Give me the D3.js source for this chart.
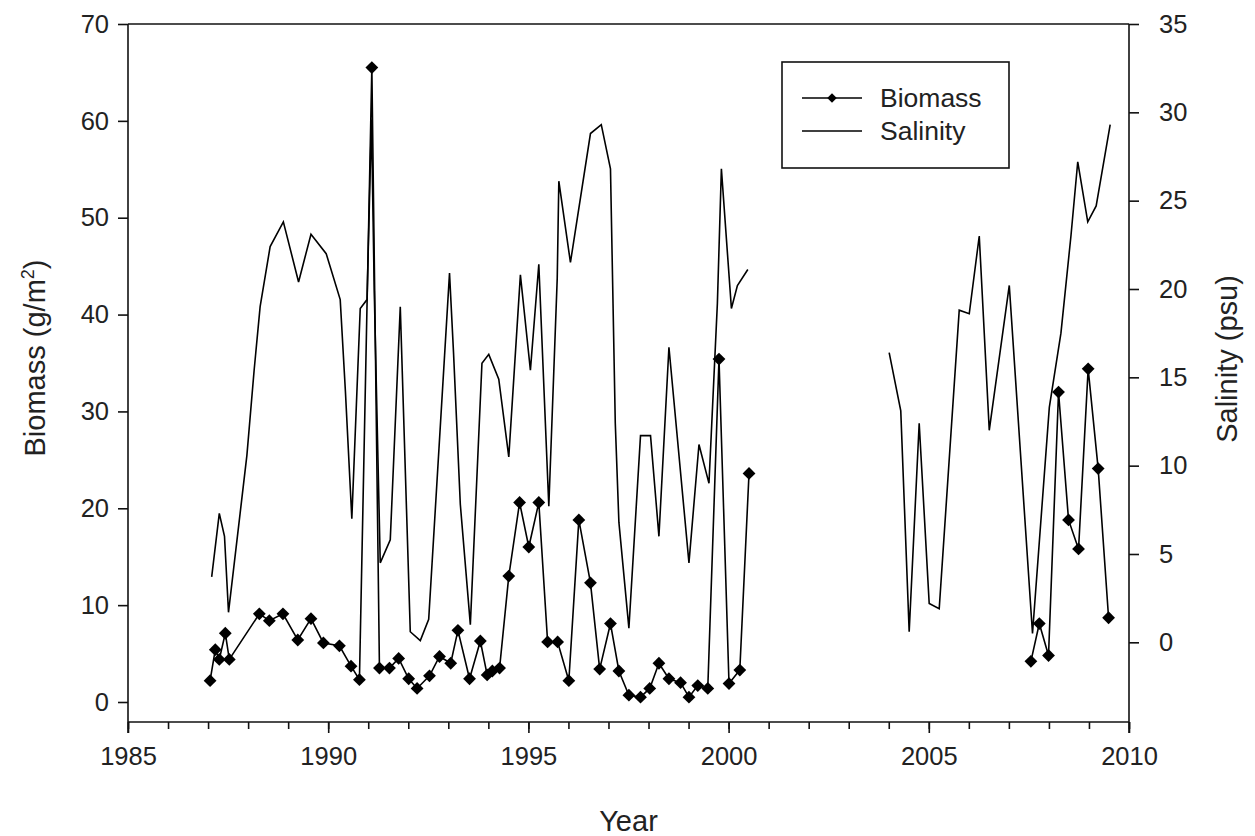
<!DOCTYPE html>
<html>
<head>
<meta charset="utf-8">
<script src="https://cdn.jsdelivr.net/npm/d3@7"></script>
<style>
  html, body { margin: 0; padding: 0; background: #fff; }
  svg { display: block; }
  text { font-family: "Liberation Sans", Arial, sans-serif; fill: #222; }
</style>
</head>
<body>
<svg id="chart" width="1255" height="836"></svg>
<script>
// ---- Data ----
const biomassEarlyYears = [1987.05,1987.18,1987.28,1987.43,1987.53,1988.28,1988.53,1988.87,1989.24,1989.57,1989.88,1990.28,1990.57,1990.78,1991.09,1991.28,1991.53,1991.76,1992.01,1992.22,1992.53,1992.78,1993.06,1993.24,1993.53,1993.80,1993.97,1994.10,1994.28,1994.51,1994.78,1995.01,1995.26,1995.48,1995.73,1996.01,1996.26,1996.55,1996.78,1997.05,1997.26,1997.51,1997.80,1998.03,1998.26,1998.51,1998.80,1999.01,1999.23,1999.48,1999.76,2000.01,2000.28,2000.51];
const biomassEarlyValues = [2.2,5.4,4.4,7.1,4.4,9.1,8.4,9.1,6.4,8.6,6.1,5.8,3.7,2.3,65.5,3.5,3.5,4.5,2.4,1.4,2.7,4.7,4.0,7.4,2.4,6.3,2.8,3.2,3.5,13.0,20.6,16.0,20.6,6.2,6.2,2.2,18.8,12.3,3.4,8.1,3.2,0.7,0.5,1.4,4.0,2.4,2.0,0.5,1.7,1.4,35.4,1.9,3.3,23.6];
const biomassLateYears = [2007.55,2007.76,2007.99,2008.24,2008.49,2008.74,2008.98,2009.23,2009.49];
const biomassLateValues = [4.2,8.1,4.8,32.0,18.8,15.8,34.4,24.1,8.7];

const salinityEarlyYears = [1987.09,1987.28,1987.41,1987.51,1987.80,1987.97,1988.15,1988.30,1988.55,1988.88,1989.26,1989.57,1989.95,1990.30,1990.43,1990.59,1990.80,1990.97,1991.08,1991.15,1991.30,1991.55,1991.80,1992.05,1992.30,1992.51,1993.03,1993.13,1993.30,1993.55,1993.84,1994.01,1994.26,1994.51,1994.80,1995.05,1995.26,1995.51,1995.72,1995.76,1996.05,1996.55,1996.82,1997.05,1997.17,1997.26,1997.51,1997.80,1998.05,1998.26,1998.51,1999.01,1999.26,1999.51,1999.72,1999.82,2000.07,2000.22,2000.48];
const salinityEarlyValues = [3.7,7.3,6.0,1.7,7.3,10.6,15.4,19.0,22.4,23.8,20.4,23.1,22.0,19.4,14.2,7.0,18.9,19.4,29.6,19.9,4.5,5.8,19.0,0.6,0.1,1.3,20.9,16.4,7.8,1.0,15.8,16.3,14.9,10.5,20.8,15.4,21.4,7.7,20.6,26.1,21.5,28.8,29.3,26.8,12.4,6.8,0.8,11.7,11.7,6.0,16.7,4.5,11.2,9.0,19.2,26.8,18.9,20.2,21.1];
const salinityLateYears = [2004.01,2004.30,2004.51,2004.76,2005.01,2005.26,2005.76,2006.01,2006.26,2006.51,2007.01,2007.59,2008.01,2008.30,2008.55,2008.72,2008.97,2009.18,2009.53];
const salinityLateValues = [16.4,13.1,0.6,12.4,2.2,1.9,18.8,18.6,23.0,12.0,20.2,0.5,13.3,17.5,23.0,27.2,23.8,24.7,29.3];

const yearTicks = [1985,1990,1995,2000,2005,2010];
const biomassTicks = [0,10,20,30,40,50,60,70];
const salinityTicks = [0,5,10,15,20,25,30,35];
const legendLabels = ["Biomass","Salinity"];

// ---- Layout ----
const L = 128, R = 1129, T = 24, B = 722;
const svg = d3.select("#chart");

const x = d3.scaleLinear().domain([1985, 2010]).range([L, R]);
const yB = d3.scaleLinear().domain([-2.065, 70]).range([B, T]);
const yS = d3.scaleLinear().domain([-4.51, 35]).range([B, T]);

const tickFont = 25.5;

// top frame line
svg.append("line").attr("x1", L).attr("x2", R).attr("y1", T).attr("y2", T)
  .attr("stroke", "#111").attr("stroke-width", 1.6);

// bottom axis: minor ticks every year
const gx = svg.append("g").attr("transform", `translate(0,${B})`);
gx.call(d3.axisBottom(x).tickValues(d3.range(1985, 2011, 1)).tickSize(7).tickFormat(""));
gx.call(g => g.selectAll(".domain").remove());
const gx2 = svg.append("g").attr("transform", `translate(0,${B})`);
gx2.call(d3.axisBottom(x).tickValues(yearTicks).tickSize(11).tickPadding(14).tickFormat(d3.format("d")));
[gx, gx2].forEach(g => {
  g.selectAll("line").attr("stroke", "#111").attr("stroke-width", 1.6);
  g.selectAll("path").attr("stroke", "#111").attr("stroke-width", 1.6);
  g.selectAll("text").style("font-size", tickFont + "px").style("font-family", "Liberation Sans, Arial, sans-serif").attr("fill", "#222");
});
gx2.select(".domain").attr("d", `M${L},0H${R}`);

// left axis
const gyL = svg.append("g").attr("transform", `translate(${L},0)`);
gyL.call(d3.axisLeft(yB).tickValues(biomassTicks).tickSize(10).tickPadding(9));
gyL.select(".domain").attr("d", `M0,${T}V${B + 11}`);
// right axis
const gyR = svg.append("g").attr("transform", `translate(${R},0)`);
gyR.call(d3.axisRight(yS).tickValues(salinityTicks).tickSize(10).tickPadding(20));
gyR.select(".domain").attr("d", `M0,${T}V${B + 11}`);
[gyL, gyR].forEach(g => {
  g.selectAll("line").attr("stroke", "#111").attr("stroke-width", 1.6);
  g.selectAll("path").attr("stroke", "#111").attr("stroke-width", 1.6).attr("fill", "none");
  g.selectAll("text").style("font-size", tickFont + "px").style("font-family", "Liberation Sans, Arial, sans-serif").attr("fill", "#222");
});

// ---- Series ----
function pts(xs, vs) { return xs.map((d, i) => [d, vs[i]]); }
const lineB = d3.line().x(d => x(d[0])).y(d => yB(d[1]));
const lineS = d3.line().x(d => x(d[0])).y(d => yS(d[1]));

[pts(salinityEarlyYears, salinityEarlyValues), pts(salinityLateYears, salinityLateValues)].forEach(seg => {
  svg.append("path").datum(seg).attr("d", lineS)
    .attr("fill", "none").attr("stroke", "#000").attr("stroke-width", 1.6).attr("stroke-linejoin", "miter");
});

const diamond = d3.symbol().type(d3.symbolSquare).size(82);
[pts(biomassEarlyYears, biomassEarlyValues), pts(biomassLateYears, biomassLateValues)].forEach(seg => {
  svg.append("path").datum(seg).attr("d", lineB)
    .attr("fill", "none").attr("stroke", "#000").attr("stroke-width", 1.6);
  svg.append("g").selectAll("path").data(seg).join("path")
    .attr("d", diamond)
    .attr("transform", d => `translate(${x(d[0])},${yB(d[1])}) rotate(45)`)
    .attr("fill", "#000");
});

// ---- Axis titles ----
svg.append("text").attr("x", (L + R) / 2).attr("y", 831).attr("text-anchor", "middle")
  .style("font-size", "29px").text("Year");
svg.append("text").attr("transform", `translate(45,358) rotate(-90)`).attr("text-anchor", "middle")
  .style("font-size", "29px")
  .call(t => {
    t.append("tspan").text("Biomass (g/m");
    t.append("tspan").attr("dy", -11).style("font-size", "18px").text("2");
    t.append("tspan").attr("dy", 11).text(")");
  });
svg.append("text").attr("transform", `translate(1237,359) rotate(-90)`).attr("text-anchor", "middle")
  .style("font-size", "29px").text("Salinity (psu)");

// ---- Legend ----
const lg = svg.append("g");
lg.append("rect").attr("x", 782).attr("y", 62).attr("width", 227).attr("height", 106)
  .attr("fill", "#fff").attr("stroke", "#111").attr("stroke-width", 1.6);
const legendY = [98, 131];
legendLabels.forEach((lab, i) => {
  lg.append("line").attr("x1", 802).attr("x2", 862).attr("y1", legendY[i]).attr("y2", legendY[i])
    .attr("stroke", "#000").attr("stroke-width", 1.6);
  if (i === 0) {
    lg.append("path").attr("d", d3.symbol().type(d3.symbolSquare).size(45))
      .attr("transform", `translate(832,${legendY[i]}) rotate(45)`).attr("fill", "#000");
  }
  lg.append("text").attr("x", 880).attr("y", legendY[i]).attr("dy", "0.35em")
    .style("font-size", "26.5px").text(lab);
});
</script>
</body>
</html>
